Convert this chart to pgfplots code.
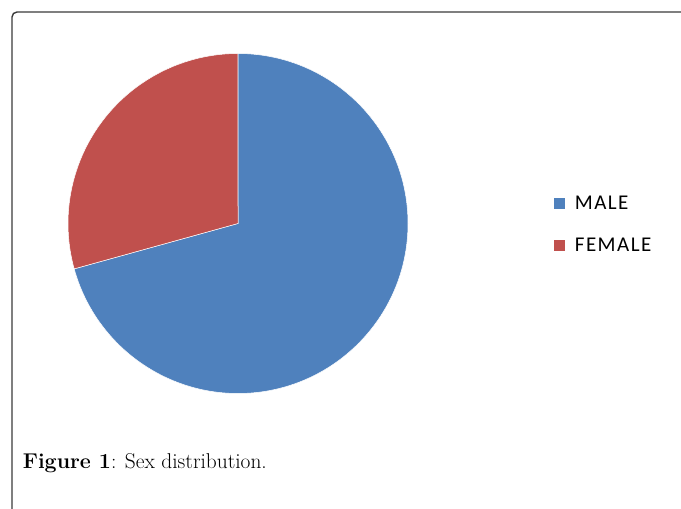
\documentclass[border=0pt]{standalone}
\usepackage{pgfplots}
\usepackage{pgfplotstable}
\pgfplotsset{compat=1.18}
\usepackage{fontspec}
\newfontfamily\calibri{Carlito}[LetterSpace=7]
\definecolor{malecol}{HTML}{4F81BD}
\definecolor{femalecol}{HTML}{C0504D}
\definecolor{framecol}{HTML}{3A3A3A}

\pgfplotstableread{
label value
MALE 70.7
FEMALE 29.3
}\piedata

\begin{document}
\begin{tikzpicture}
\pgfplotstablegetelem{0}{value}\of\piedata
\pgfmathsetmacro\vmale{\pgfplotsretval}
\pgfplotstablegetelem{1}{value}\of\piedata
\pgfmathsetmacro\vfemale{\pgfplotsretval}
\pgfmathsetmacro\total{\vmale+\vfemale}
\pgfmathsetmacro\angM{90-\vmale/\total*360}
\pgfmathsetmacro\angF{\angM-\vfemale/\total*360}
\begin{axis}[
  at={(0pt,0pt)}, anchor=south west,
  width=681pt, height=509pt, scale only axis,
  xmin=0, xmax=681, ymin=0, ymax=509,
  hide axis, clip=false,
  legend style={at={(axis cs:554,284.5)}, anchor=west, draw=none, fill=none,
    font=\calibri\fontsize{21}{25}\selectfont, row sep=23pt, inner sep=0pt,
    column sep=8pt},
  legend cell align=left,
  legend image code/.code={\fill[#1] (0pt,-5.3pt) rectangle (10.7pt,5.3pt);},
]
\addlegendimage{fill=malecol, draw=none}
\addlegendentry{MALE}
\addlegendimage{fill=femalecol, draw=none}
\addlegendentry{FEMALE}
\fill[malecol, draw=white, line width=0.5pt] (axis cs:238,285.5) -- ++(90:170pt)
  arc[start angle=90, end angle=\angM, radius=170pt] -- cycle;
\fill[femalecol, draw=white, line width=0.5pt] (axis cs:238,285.5) -- ++(\angM:170pt)
  arc[start angle=\angM, end angle=\angF, radius=170pt] -- cycle;
\draw[framecol, line width=1.4pt, rounded corners=5pt]
  (axis cs:12,-10) -- (axis cs:12,497) -- (axis cs:700,497);
\node[anchor=base west, inner sep=0pt] at (axis cs:22.7,40)
  {\fontsize{21.4}{25}\selectfont\textbf{Figure 1}: Sex distribution.};
\end{axis}
\pgfresetboundingbox
\path (0pt,0pt) rectangle (681pt,509pt);
\end{tikzpicture}
\end{document}
